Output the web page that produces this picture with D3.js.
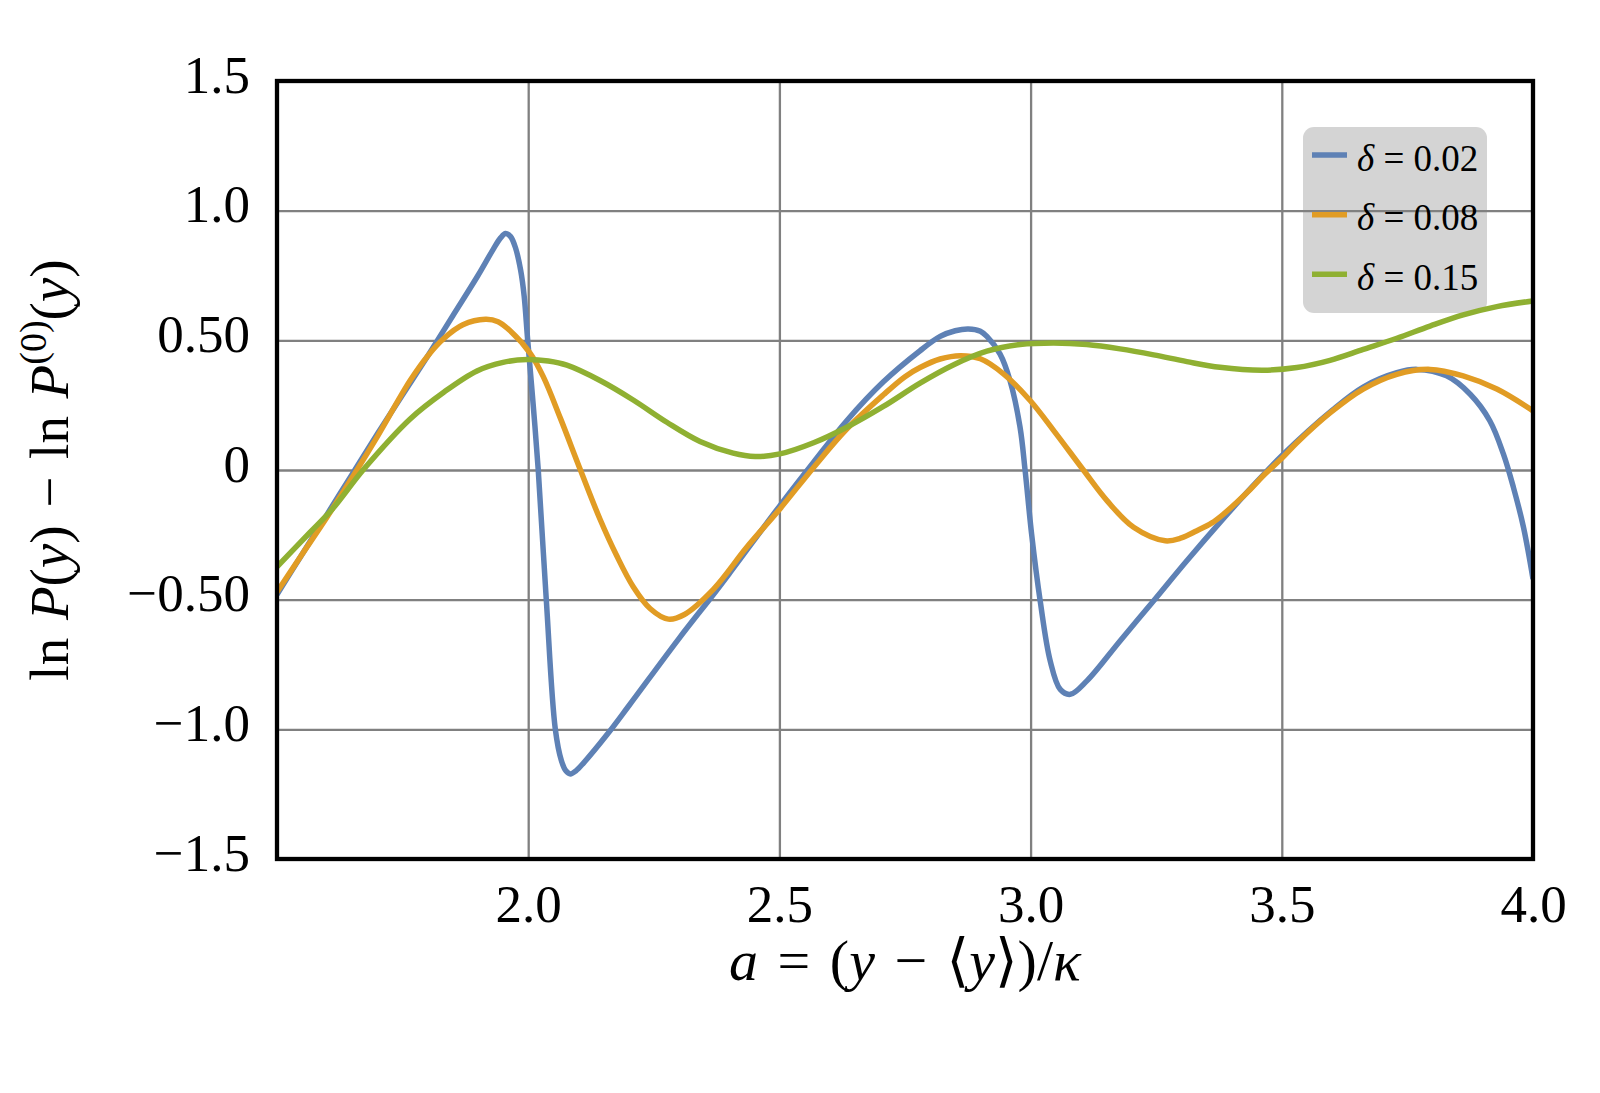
<!DOCTYPE html>
<html>
<head>
<meta charset="utf-8">
<script src="https://cdn.jsdelivr.net/npm/d3@7"></script>
<style>
  html, body { margin: 0; padding: 0; background: #fff; }
  svg { display: block; }
  text { font-family: "Liberation Serif", "DejaVu Serif", serif; fill: #000; }
</style>
</head>
<body>
<svg id="chart" width="1600" height="1093"></svg>
<script>
// ---------------- data ----------------
const xTicks = [2.0, 2.5, 3.0, 3.5, 4.0];
const xTickLabels = ["2.0", "2.5", "3.0", "3.5", "4.0"];
const yTicks = [1.5, 1.0, 0.5, 0, -0.5, -1.0, -1.5];
const yTickLabels = ["1.5", "1.0", "0.50", "0", "\u22120.50", "\u22121.0", "\u22121.5"];
const gridX = [2.0, 2.5, 3.0, 3.5];
const gridY = [1.0, 0.5, 0, -0.5, -1.0];

const seriesNames = ["0.02", "0.08", "0.15"];
const seriesColors = ["#5E81B5", "#E19C24", "#8FB032"];

const xBlue = [1.5,1.55,1.6,1.65,1.7,1.75,1.8,1.85,1.9,1.93,1.945,1.955,1.965,1.975,1.985,1.992,1.999,2.01,2.02,2.036,2.054,2.066,2.075,2.084,2.095,2.11,2.157,2.2,2.3,2.369,2.4,2.5,2.568,2.634,2.707,2.78,2.82,2.85,2.876,2.9,2.913,2.939,2.959,2.979,2.989,3.002,3.019,3.039,3.059,3.079,3.112,3.178,3.245,3.311,3.377,3.437,3.5,3.6,3.662,3.729,3.769,3.828,3.875,3.914,3.941,3.961,3.981,4.0];
const yBlue = [-0.48,-0.325,-0.17,-0.015,0.14,0.29,0.44,0.595,0.75,0.85,0.895,0.912,0.9,0.855,0.77,0.67,0.5,0.25,0.0,-0.5,-1.0,-1.12,-1.16,-1.172,-1.16,-1.13,-1.02,-0.91,-0.65,-0.479,-0.40,-0.14,0.03,0.19,0.34,0.46,0.515,0.537,0.544,0.535,0.515,0.448,0.345,0.165,0.0,-0.247,-0.504,-0.736,-0.846,-0.865,-0.813,-0.659,-0.504,-0.35,-0.202,-0.073,0.055,0.23,0.32,0.375,0.388,0.363,0.292,0.19,0.062,-0.067,-0.22,-0.42];

const xOrange = [1.5,1.55,1.6,1.659,1.7,1.765,1.8,1.832,1.87,1.915,1.94,1.964,2.004,2.03,2.064,2.104,2.143,2.176,2.209,2.243,2.279,2.31,2.369,2.435,2.501,2.568,2.634,2.707,2.75,2.78,2.82,2.86,2.9,2.946,2.999,3.046,3.105,3.152,3.205,3.268,3.3,3.331,3.36,3.384,3.41,3.437,3.463,3.5,3.53,3.596,3.662,3.729,3.795,3.861,3.928,4.0];
const yOrange = [-0.47,-0.325,-0.18,0.0,0.13,0.345,0.44,0.507,0.56,0.581,0.572,0.537,0.45,0.36,0.2,0.0,-0.19,-0.33,-0.45,-0.535,-0.575,-0.558,-0.459,-0.298,-0.15,0.01,0.158,0.29,0.36,0.395,0.428,0.441,0.429,0.371,0.268,0.152,0.0,-0.118,-0.221,-0.273,-0.262,-0.234,-0.205,-0.17,-0.125,-0.075,-0.022,0.045,0.105,0.22,0.312,0.369,0.388,0.363,0.312,0.228];

const xGreen = [1.5,1.566,1.61,1.673,1.765,1.832,1.898,1.95,1.998,2.04,2.077,2.143,2.209,2.276,2.342,2.408,2.452,2.501,2.568,2.634,2.707,2.78,2.846,2.913,2.979,3.046,3.112,3.178,3.245,3.311,3.377,3.463,3.53,3.596,3.662,3.729,3.795,3.861,3.928,4.0];
const yGreen = [-0.373,-0.24,-0.151,0.004,0.197,0.30,0.382,0.415,0.426,0.42,0.404,0.345,0.27,0.184,0.11,0.065,0.052,0.062,0.105,0.165,0.245,0.335,0.405,0.458,0.484,0.49,0.484,0.467,0.444,0.418,0.396,0.385,0.395,0.423,0.465,0.508,0.555,0.598,0.63,0.652];

// ---------------- layout ----------------
const L = 277, R = 1533, T = 81, B = 859;
const svg = d3.select("#chart");
const x = d3.scaleLinear().domain([1.5, 4.0]).range([L, R]);
const y = d3.scaleLinear().domain([-1.5, 1.5]).range([B, T]);

const series = [
  { name: seriesNames[0], color: seriesColors[0], pts: xBlue.map((v, i) => [v, yBlue[i]]) },
  { name: seriesNames[1], color: seriesColors[1], pts: xOrange.map((v, i) => [v, yOrange[i]]) },
  { name: seriesNames[2], color: seriesColors[2], pts: xGreen.map((v, i) => [v, yGreen[i]]) }
];

svg.append("rect").attr("width", 1600).attr("height", 1093).attr("fill", "#fff");

// legend background (grid is drawn over it, as in the reference)
const lg = { x: 1303, y: 127, w: 184, h: 186 };
svg.append("rect").attr("x", lg.x).attr("y", lg.y).attr("width", lg.w).attr("height", lg.h)
  .attr("rx", 11).attr("fill", "#d4d4d4");

// grid
const gx = svg.append("g").attr("transform", `translate(0,${B})`)
  .call(d3.axisBottom(x).tickValues(gridX).tickSize(-(B - T)).tickFormat(""));
gx.select(".domain").remove();
gx.selectAll("line").attr("stroke", "#808080").attr("stroke-width", 2.3);

const gy = svg.append("g").attr("transform", `translate(${L},0)`)
  .call(d3.axisLeft(y).tickValues(gridY).tickSize(-(R - L)).tickFormat(""));
gy.select(".domain").remove();
gy.selectAll("line").attr("stroke", "#808080").attr("stroke-width", 2.3);

// curves
svg.append("clipPath").attr("id", "plotclip").append("rect")
  .attr("x", L).attr("y", T).attr("width", R - L).attr("height", B - T);

const line = d3.line().x(d => x(d[0])).y(d => y(d[1])).curve(d3.curveCatmullRom.alpha(0.5));
const cg = svg.append("g").attr("clip-path", "url(#plotclip)");
series.forEach(s => {
  cg.append("path").datum(s.pts).attr("d", line)
    .attr("fill", "none").attr("stroke", s.color).attr("stroke-width", 5.5)
    .attr("stroke-linejoin", "round").attr("stroke-linecap", "butt");
});

// frame
svg.append("rect").attr("x", L).attr("y", T).attr("width", R - L).attr("height", B - T)
  .attr("fill", "none").attr("stroke", "#000").attr("stroke-width", 4.3);

// tick labels
const ax = svg.append("g").attr("transform", `translate(0,${B})`)
  .call(d3.axisBottom(x).tickValues(xTicks).tickSize(0)
    .tickFormat((d, i) => xTickLabels[i]));
ax.select(".domain").remove();
ax.selectAll("text").attr("y", 63).attr("dy", null)
  .style("font-size", "53px").style("font-family", "'Liberation Serif', serif");

const ay = svg.append("g").attr("transform", `translate(${L},0)`)
  .call(d3.axisLeft(y).tickValues(yTicks).tickSize(0)
    .tickFormat((d, i) => yTickLabels[i]));
ay.select(".domain").remove();
ay.selectAll("text").attr("x", -27).attr("dy", 11)
  .style("font-size", "53px").style("font-family", "'Liberation Serif', serif");

// x axis label
svg.append("clipPath").attr("id", "xlabclip").append("rect")
  .attr("x", 0).attr("y", 900).attr("width", 1600).attr("height", 92);
const xl = svg.append("text").attr("x", (L + R) / 2).attr("y", 980)
  .attr("text-anchor", "middle").attr("clip-path", "url(#xlabclip)")
  .style("font-size", "58px").style("word-spacing", "5px");
xl.append("tspan").attr("font-style", "italic").text("a");
xl.append("tspan").text(" = (");
xl.append("tspan").attr("font-style", "italic").text("y");
xl.append("tspan").text(" \u2212 \u27E8");
xl.append("tspan").attr("font-style", "italic").text("y");
xl.append("tspan").text("\u27E9)/");
xl.append("tspan").attr("font-style", "italic").text("\u03BA");

// y axis label
const yl = svg.append("text")
  .attr("transform", `translate(68,${(T + B) / 2}) rotate(-90)`)
  .attr("text-anchor", "middle").style("font-size", "55px").style("word-spacing", "4px");
yl.append("tspan").text("ln ");
yl.append("tspan").attr("font-style", "italic").text("P");
yl.append("tspan").text("(");
yl.append("tspan").attr("font-style", "italic").text("y");
yl.append("tspan").text(") \u2212 ln ");
yl.append("tspan").attr("font-style", "italic").text("P");
yl.append("tspan").attr("dy", -22).style("font-size", "38px").text("(0)");
yl.append("tspan").attr("dy", 22).text("(");
yl.append("tspan").attr("font-style", "italic").text("y");
yl.append("tspan").text(")");

// legend entries
const rowY = d3.scaleLinear().domain([0, 2]).range([155, 274.3]);
series.forEach((s, i) => {
  const yy = rowY(i);
  svg.append("line").attr("x1", 1312).attr("x2", 1347).attr("y1", yy).attr("y2", yy)
    .attr("stroke", s.color).attr("stroke-width", 5.5);
  const t = svg.append("text").attr("x", 1357).attr("y", yy + 15.5).style("font-size", "37px");
  t.append("tspan").attr("font-style", "italic").text("\u03B4");
  t.append("tspan").text(" = " + s.name);
});
</script>
</body>
</html>
